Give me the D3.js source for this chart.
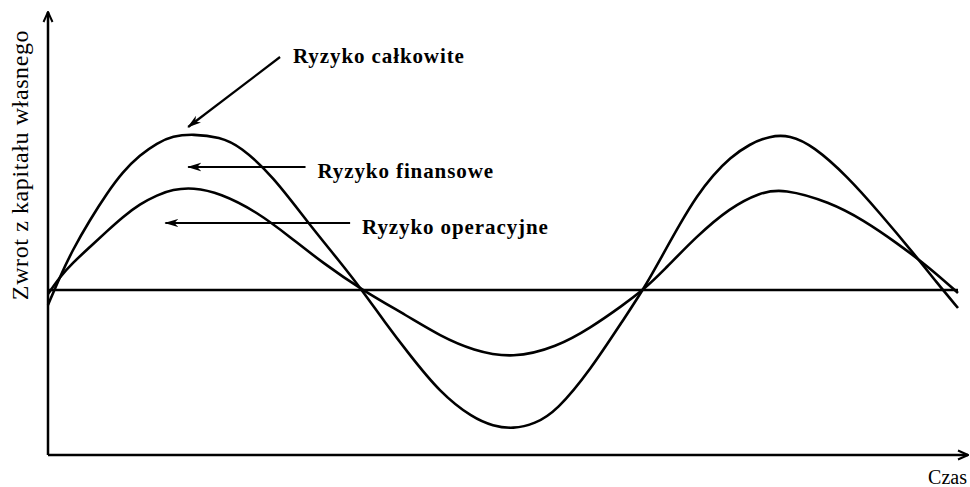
<!DOCTYPE html>
<html>
<head>
<meta charset="utf-8">
<script src="https://cdn.jsdelivr.net/npm/d3@7"></script>
<style>
    body { margin: 0; background: #fff; }
    text { font-family: "Liberation Serif", "DejaVu Serif", serif; fill: #000; }
</style>
</head>
<body>
<svg id="chart"></svg>
<script>
// time (arbitrary units) and return on equity
const timeTotal = [0, 0.13, 0.27, 0.46, 0.65, 0.82, 1.01, 1.2, 1.37, 1.59, 1.89, 2.11, 2.47, 2.85, 3.21, 3.45,
    3.7, 3.95, 4.31, 4.67, 4.89, 5.11, 5.35, 5.59, 5.96, 6.32, 6.54,
    6.76, 6.95, 7.13, 7.31, 7.49, 7.71, 7.93, 8.15, 8.41, 8.78, 9.14, 9.51, 9.77, 10];
const totalRisk = [-0.3, 0.26, 0.8, 1.4, 1.94, 2.36, 2.7, 2.94, 3.08, 3.12, 3.06, 2.88, 2.28, 1.36, 0.56, 0,
    -0.64, -1.24, -2.06, -2.56, -2.72, -2.78, -2.68, -2.42, -1.6, -0.6, 0,
    0.72, 1.34, 1.88, 2.3, 2.64, 2.92, 3.08, 3.1, 2.88, 2.28, 1.54, 0.74, 0.14, -0.36];

const timeOper = [0, 0.13, 0.27, 0.46, 0.65, 0.82, 1.01, 1.2, 1.37, 1.59, 1.89, 2.3, 2.66, 3.02, 3.45,
    3.95, 4.31, 4.67, 5.11, 5.59, 5.96, 6.32, 6.54,
    6.76, 7.13, 7.49, 7.82, 8.08, 8.59, 8.96, 9.33, 9.69, 10];
const operRisk = [-0.08, 0.26, 0.54, 0.86, 1.18, 1.46, 1.72, 1.9, 2.01, 2.05, 1.94, 1.56, 1.06, 0.54, 0,
    -0.52, -0.92, -1.21, -1.37, -1.14, -0.76, -0.3, 0,
    0.38, 1.08, 1.64, 1.95, 2.03, 1.76, 1.4, 0.94, 0.44, -0.06];

const baseTime = [0, 10];
const baseValue = [0, 0];

const labels = ['Ryzyko całkowite', 'Ryzyko finansowe', 'Ryzyko operacyjne'];
// annotation arrows: [from time, from value, to time, to value]
const arrows = [
    [2.55, 4.66, 1.54, 3.26],
    [2.83, 2.46, 1.54, 2.46],
    [3.32, 1.34, 1.29, 1.34]
];
const yTitle = 'Zwrot z kapitału własnego';
const xTitle = 'Czas';

const width = 970, height = 487;
const x = d3.scaleLinear().domain([0, 10]).range([48, 958]);
const y = d3.scaleLinear().domain([-3.3, 5.56]).range([455, 12]);

const svg = d3.select('#chart').attr('width', width).attr('height', height);

let defs = svg.append('defs');
defs.append('marker')
    .attr('id', 'axisHead')
    .attr('viewBox', '0 0 12 12')
    .attr('refX', 11).attr('refY', 6)
    .attr('markerWidth', 12).attr('markerHeight', 12)
    .attr('markerUnits', 'userSpaceOnUse')
    .attr('orient', 'auto')
    .append('path')
    .attr('d', 'M1,1.5 L11,6 L1,10.5')
    .attr('fill', 'none')
    .attr('stroke', '#000')
    .attr('stroke-width', 2);
defs.append('marker')
    .attr('id', 'noteHead')
    .attr('viewBox', '0 0 14 10')
    .attr('refX', 13).attr('refY', 5)
    .attr('markerWidth', 14).attr('markerHeight', 10)
    .attr('markerUnits', 'userSpaceOnUse')
    .attr('orient', 'auto')
    .append('path')
    .attr('d', 'M14,5 L0,0.8 L4,5 L0,9.2 Z')
    .attr('fill', '#000');

// axes
svg.append('line')
    .attr('x1', x(0)).attr('y1', y(-3.3))
    .attr('x2', x(0)).attr('y2', y(5.56))
    .attr('stroke', '#000').attr('stroke-width', 2.5)
    .attr('marker-end', 'url(#axisHead)');
svg.append('line')
    .attr('x1', x(0)).attr('y1', y(-3.3))
    .attr('x2', 968).attr('y2', y(-3.3))
    .attr('stroke', '#000').attr('stroke-width', 2.5)
    .attr('marker-end', 'url(#axisHead)');

let line = d3.line()
    .x(d => x(d[0]))
    .y(d => y(d[1]))
    .curve(d3.curveBasis);

svg.append('path')
    .datum(d3.zip(baseTime, baseValue))
    .attr('fill', 'none').attr('stroke', '#000').attr('stroke-width', 2.5)
    .attr('d', d3.line().x(d => x(d[0])).y(d => y(d[1])));

svg.append('path')
    .datum(d3.zip(timeTotal, totalRisk))
    .attr('fill', 'none').attr('stroke', '#000').attr('stroke-width', 2.6)
    .attr('d', line);

svg.append('path')
    .datum(d3.zip(timeOper, operRisk))
    .attr('fill', 'none').attr('stroke', '#000').attr('stroke-width', 2.6)
    .attr('d', line);

// annotations
svg.selectAll('.note')
    .data(arrows)
    .join('line')
    .attr('class', 'note')
    .attr('x1', d => x(d[0])).attr('y1', d => y(d[1]))
    .attr('x2', d => x(d[2])).attr('y2', d => y(d[3]))
    .attr('stroke', '#000').attr('stroke-width', 2.2)
    .attr('marker-end', 'url(#noteHead)');

svg.selectAll('.label')
    .data(labels)
    .join('text')
    .attr('class', 'label')
    .attr('x', (d, i) => x(arrows[i][0]) + (i == 0 ? 13 : 12))
    .attr('y', (d, i) => y(arrows[i][1]) + (i == 0 ? 6 : 11))
    .attr('font-size', 21)
    .attr('font-weight', 'bold')
    .attr('letter-spacing', 0.9)
    .text(d => d);

svg.append('text')
    .attr('transform', 'translate(28,165) rotate(-90)')
    .attr('text-anchor', 'middle')
    .attr('font-size', 24)
    .attr('letter-spacing', 0.6)
    .text(yTitle);

svg.append('text')
    .attr('x', 967).attr('y', 484)
    .attr('text-anchor', 'end')
    .attr('font-size', 20)
    .text(xTitle);
</script>
</body>
</html>
